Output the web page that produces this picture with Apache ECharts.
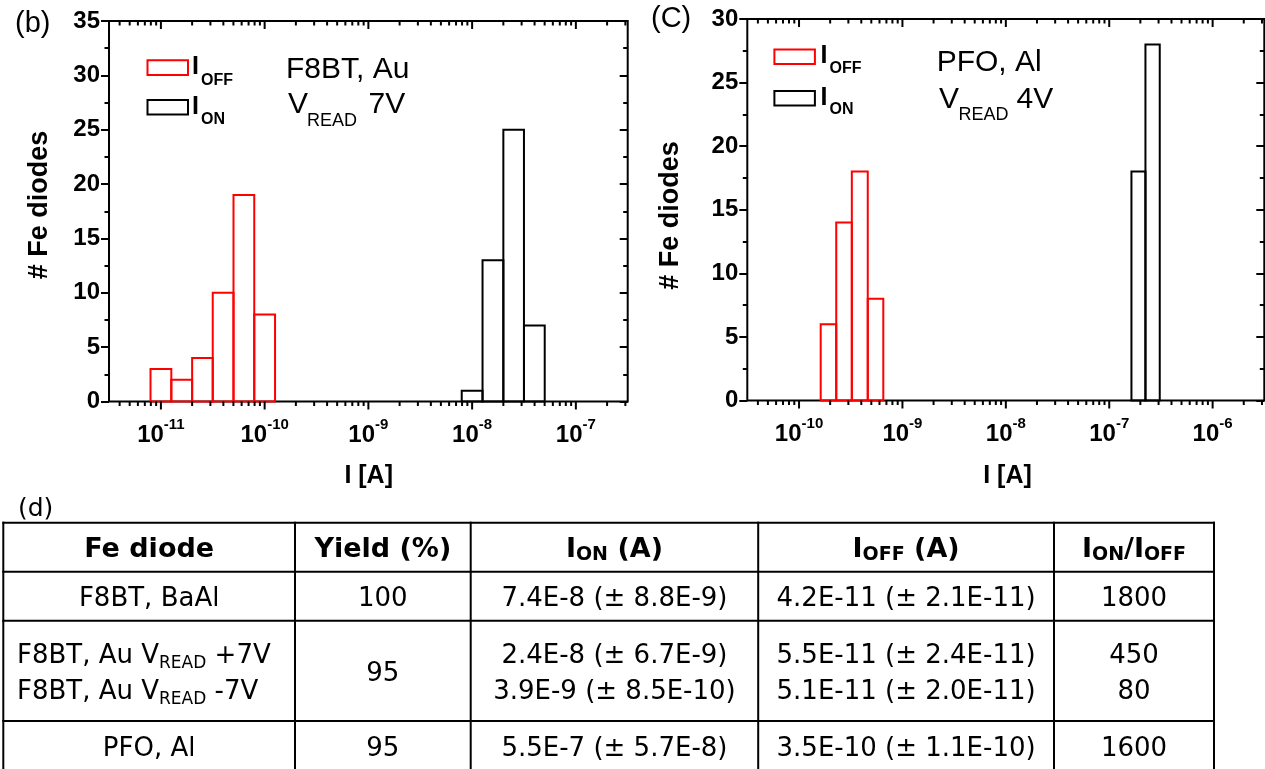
<!DOCTYPE html>
<html>
<head>
<meta charset="utf-8">
<script src="https://cdn.jsdelivr.net/npm/echarts@6/dist/echarts.min.js"></script>
<style>
html,body{margin:0;padding:0;background:#fff;}
#chart{position:absolute;left:0;top:0;width:1265px;height:769px;}
</style>
</head>
<body>
<div id="chart"></div>
<script>
// ---------------- DATA ----------------
// Panel (b): F8BT, Au, V_READ 7V  (histogram bin edges in A and counts)
const bOffEdges = [7.94e-12, 1.26e-11, 2.0e-11, 3.16e-11, 5.01e-11, 7.94e-11, 1.26e-10];
const bOffCounts = [3, 2, 4, 10, 19, 8];
const bOnEdges = [7.94e-9, 1.26e-8, 2.0e-8, 3.16e-8, 5.01e-8];
const bOnCounts = [1, 13, 25, 7];
// Panel (c): PFO, Al, V_READ 4V
const cOffEdges = [1.62e-10, 2.29e-10, 3.24e-10, 4.62e-10, 6.53e-10];
const cOffCounts = [6, 14, 18, 8];
const cOnEdges = [1.64e-7, 2.24e-7, 3.08e-7];
const cOnCounts = [18, 28];
// Axes
const bXRange = [3.16e-12, 3.16e-7];
const cXRange = [3.16e-11, 3.16e-6];
const bYMax = 35;
const cYMax = 30;
const yStep = 5;
const bDecades = [-12, -11, -10, -9, -8, -7];
const cDecades = [-11, -10, -9, -8, -7, -6];
const minorMultipliers = [2, 3, 4, 5, 6, 7, 8, 9];
// Table (d)
const tableHeader = ['Fe diode', 'Yield (%)', 'I_{ON} (A)', 'I_{OFF} (A)', 'I_{ON}/I_{OFF}'];
const tableRows = [
  ['F8BT, BaAl', '100', '7.4E-8 (± 8.8E-9)', '4.2E-11 (± 2.1E-11)', '1800'],
  ['F8BT, Au V_{READ} +7V\nF8BT, Au V_{READ} -7V', '95', '2.4E-8 (± 6.7E-9)\n3.9E-9 (± 8.5E-10)', '5.5E-11 (± 2.4E-11)\n5.1E-11 (± 2.0E-11)', '450\n80'],
  ['PFO, Al', '95', '5.5E-7 (± 5.7E-8)', '3.5E-10 (± 1.1E-10)', '1600']
];

// ---------------- LAYOUT ----------------
const RED = '#ff0000';
const FONT = 'Liberation Sans';
const TFONT = '"DejaVu Sans"';
const grids = [
  {left: 109, top: 21, width: 518.7, height: 380.5},
  {left: 747.3, top: 19, width: 517, height: 381.5}
];
const colEdges = [3.3, 295, 470.7, 758.2, 1054, 1214];
const rowEdges = [522.7, 571.7, 620.7, 721, 770];

function bins(edges, counts) {
  return counts.map((n, i) => [edges[i], edges[i + 1], n]);
}
function tickValues(decades, range) {
  const out = [];
  decades.forEach(e => {
    const base = Math.pow(10, e);
    if (base >= range[0] && base <= range[1]) out.push([base, 0, 1]);
    minorMultipliers.forEach(k => {
      const v = k * base;
      if (v >= range[0] && v <= range[1]) out.push([v, 0, 0]);
    });
  });
  return out;
}
function barSeries(name, gi, data, color) {
  return {
    name: name, type: 'custom', xAxisIndex: gi, yAxisIndex: gi * 2,
    dimensions: ['lo', 'hi', 'n'], encode: {x: [0, 1], y: 2},
    itemStyle: {color: 'rgba(0,0,0,0)', borderColor: color, borderWidth: 2},
    data: data, silent: true,
    renderItem: function (params, api) {
      const p0 = api.coord([api.value(0), 0]);
      const p1 = api.coord([api.value(1), api.value(2)]);
      return {type: 'rect', shape: {x: p0[0], y: p1[1], width: p1[0] - p0[0], height: p0[1] - p1[1]},
        style: {fill: null, stroke: color, lineWidth: 2}};
    }
  };
}
function tickSeries(gi, data) {
  return {
    type: 'custom', xAxisIndex: gi, yAxisIndex: gi * 2, silent: true, clip: false, z: 10,
    encode: {x: 0, y: 1}, data: data,
    renderItem: function (params, api) {
      const x = api.coord([api.value(0), 0])[0];
      const cs = params.coordSys;
      const len = api.value(2) ? 8 : 4.5;
      const bot = cs.y + cs.height, top = cs.y;
      return {type: 'group', children: [
        {type: 'line', shape: {x1: x, y1: bot, x2: x, y2: bot + len}, style: {stroke: '#000', lineWidth: 2}},
        {type: 'line', shape: {x1: x, y1: top, x2: x, y2: top + len}, style: {stroke: '#000', lineWidth: 2}}
      ]};
    }
  };
}
function xAxis(gi, range) {
  return {
    type: 'log', logBase: 10, gridIndex: gi, min: range[0], max: range[1],
    axisLine: {show: false}, axisTick: {show: false}, splitLine: {show: false},
    axisLabel: {
      margin: 22, color: '#000',
      formatter: function (v) {
        const l = Math.log10(v), e = Math.round(l);
        if (Math.abs(l - e) > 0.01) return '';
        return '{b|10}{s|' + e + '}';
      },
      rich: {
        b: {fontFamily: FONT, fontWeight: 'bold', fontSize: 24, lineHeight: 24, color: '#000'},
        s: {fontFamily: FONT, fontWeight: 'bold', fontSize: 15, lineHeight: 15, padding: [0, 0, 22, 0], color: '#000'}
      }
    }
  };
}
function yAxes(gi, max) {
  const common = {type: 'value', gridIndex: gi, min: 0, max: max, interval: yStep,
    splitLine: {show: false}, minorSplitLine: {show: false}, axisLine: {show: false}};
  return [
    Object.assign({}, common, {position: 'left',
      axisTick: {show: true, inside: false, length: 8, lineStyle: {color: '#000', width: 2}},
      minorTick: {show: true, splitNumber: 2, length: 4.5, lineStyle: {color: '#000', width: 2}},
      axisLabel: {margin: 9, color: '#000', fontFamily: FONT, fontWeight: 'bold', fontSize: 24}}),
    Object.assign({}, common, {position: 'right',
      axisTick: {show: true, inside: true, length: 8, lineStyle: {color: '#000', width: 2}},
      minorTick: {show: true, splitNumber: 2, length: 4.5, lineStyle: {color: '#000', width: 2}},
      axisLabel: {show: false}})
  ];
}
// legend boxes (labels with subscripts are drawn as text beside them)
function legend(names, left, top, gap) {
  return {
    data: [
      {name: names[0], icon: 'rect', itemStyle: {color: 'rgba(0,0,0,0)', borderColor: RED, borderWidth: 2}},
      {name: names[1], icon: 'rect', itemStyle: {color: 'rgba(0,0,0,0)', borderColor: '#000', borderWidth: 2}}
    ],
    orient: 'vertical', left: left, top: top, itemGap: gap, padding: 0,
    itemWidth: 40.5, itemHeight: 14.7, selectedMode: false,
    formatter: function () { return ''; },
    textStyle: {fontSize: 8}
  };
}

// ---------------- GRAPHIC (labels + table) ----------------
const g = [];
function txt(x, y, text, font, opts) {
  const o = Object.assign({type: 'text', x: x, y: y, silent: true,
    style: {text: text, font: font, fill: '#000', align: 'left', verticalAlign: 'middle'}}, opts || {});
  if (opts && opts.style) o.style = Object.assign({text: text, font: font, fill: '#000', align: 'left', verticalAlign: 'middle'}, opts.style);
  g.push(o);
}
const F = (s, w) => (w ? 'bold ' : '') + s + 'px "' + FONT + '"';
txt(15, 23.7, '(b)', F(29));
txt(651, 18.7, '(C)', F(29));
txt(40, 205, '# Fe diodes', F(27, 1), {rotation: Math.PI / 2, style: {align: 'center'}});
txt(670.3, 215.5, '# Fe diodes', F(27, 1), {rotation: Math.PI / 2, style: {align: 'center'}});
txt(368.7, 476.5, 'I [A]', F(25, 1), {style: {align: 'center'}});
txt(1007.5, 476.3, 'I [A]', F(25, 1), {style: {align: 'center'}});
// legend labels I_OFF / I_ON
txt(192, 67.5, 'I', F(25, 1)); txt(201, 80.5, 'OFF', F(16, 1));
txt(192, 107.3, 'I', F(25, 1)); txt(201, 120, 'ON', F(16, 1));
txt(820.5, 56.6, 'I', F(25, 1)); txt(829.5, 69, 'OFF', F(16, 1));
txt(820.5, 98, 'I', F(25, 1)); txt(829.5, 109.8, 'ON', F(16, 1));
// annotations
txt(286, 69.5, 'F8BT, Au', F(30));
txt(288, 104.7, 'V', F(30)); txt(307, 121.5, 'READ', F(18)); txt(368.5, 104.7, '7V', F(30));
txt(936.7, 62.8, 'PFO, Al', F(30));
txt(939, 99.6, 'V', F(30)); txt(958.5, 115.5, 'READ', F(18)); txt(1016.5, 99.6, '4V', F(30));
txt(18, 509, '(d)', '25px ' + TFONT);

// table lines
function hline(y, x1, x2) { g.push({type: 'line', silent: true, shape: {x1: x1, y1: y, x2: x2, y2: y}, style: {stroke: '#000', lineWidth: 2}}); }
function vline(x, y1, y2) { g.push({type: 'line', silent: true, shape: {x1: x, y1: y1, x2: x, y2: y2}, style: {stroke: '#000', lineWidth: 2}}); }
rowEdges.forEach(y => hline(y, colEdges[0] - 1, colEdges[colEdges.length - 1] + 1));
colEdges.forEach(x => vline(x, rowEdges[0] - 1, rowEdges[rowEdges.length - 1]));
function markup(s) { return s.replace(/_\{([^}]*)\}/g, '{sub|$1}'); }
const headRich = {sub: {font: 'bold 19px ' + TFONT, lineHeight: 19, padding: [10, 0, 0, 0]}};
const bodyRich = {sub: {font: '17px ' + TFONT, lineHeight: 17, padding: [15, 0, 0, 0]}};
tableHeader.forEach((t, c) => {
  const cx = (colEdges[c] + colEdges[c + 1]) / 2;
  const cy = (rowEdges[0] + rowEdges[1]) / 2 + 3;
  txt(cx, cy, markup(t), 'bold 27px ' + TFONT, {style: {align: 'center', rich: headRich}});
});
tableRows.forEach((row, r) => {
  row.forEach((t, c) => {
    let cx = (colEdges[c] + colEdges[c + 1]) / 2;
    const cy = (rowEdges[r + 1] + rowEdges[r + 2]) / 2 + 3.5;
    let align = 'center';
    if (r === 1 && c === 0) { cx = 17; align = 'left'; }
    txt(cx, cy, markup(t), '26px ' + TFONT, {style: {align: align, rich: bodyRich, lineHeight: 36}});
  });
});

// ---------------- OPTION ----------------
const option = {
  backgroundColor: '#fff',
  animation: false,
  grid: grids.map(gr => Object.assign({show: true, borderColor: '#000', borderWidth: 2, backgroundColor: 'rgba(0,0,0,0)', containLabel: false, outerBoundsMode: 'none'}, gr)),
  xAxis: [xAxis(0, bXRange), xAxis(1, cXRange)],
  yAxis: yAxes(0, bYMax).concat(yAxes(1, cYMax)),
  legend: [legend(['bOff', 'bOn'], 146.5, 59.3, 22.9), legend(['cOff', 'cOn'], 773.4, 48.4, 24.8)],
  series: [
    barSeries('bOff', 0, bins(bOffEdges, bOffCounts), RED),
    barSeries('bOn', 0, bins(bOnEdges, bOnCounts), '#000'),
    barSeries('cOff', 1, bins(cOffEdges, cOffCounts), RED),
    barSeries('cOn', 1, bins(cOnEdges, cOnCounts), '#000'),
    tickSeries(0, tickValues(bDecades, bXRange)),
    tickSeries(1, tickValues(cDecades, cXRange))
  ],
  graphic: g
};
const chart = echarts.init(document.getElementById('chart'), null, {renderer: 'canvas', width: 1265, height: 769});
chart.setOption(option);
</script>
</body>
</html>
